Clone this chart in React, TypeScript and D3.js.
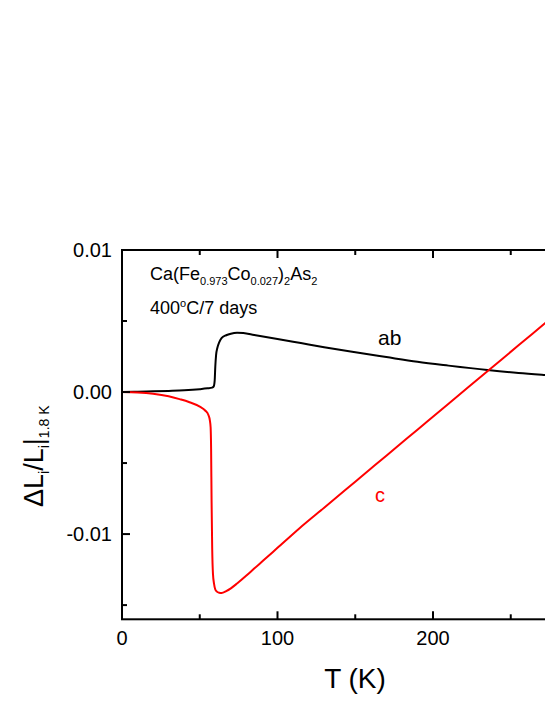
import React from "react";
import * as d3 from "d3";

// ---- data ----
const abT = [0, 10, 20, 30, 40, 50, 55, 58, 59, 59.6, 60.0, 60.5, 61.3, 62.5, 64, 67, 70, 74, 78, 85, 100, 115, 130, 147, 170, 190, 210, 235, 255, 272, 300];
const abV = [0, 0.00002, 0.00005, 0.00008, 0.00012, 0.0002, 0.00026, 0.00031, 0.0004, 0.0008, 0.0018, 0.0026, 0.0031, 0.0035, 0.0038, 0.004, 0.00411, 0.00417, 0.00415, 0.00402, 0.00374, 0.00345, 0.00316, 0.00285, 0.00246, 0.00213, 0.00186, 0.00155, 0.00134, 0.0012, 0.001];

const cT = [0, 10, 20, 30, 37, 43, 50, 53.5, 55.5, 56.5, 57, 57.3, 57.6, 58.0, 58.5, 59.2, 60, 61, 62.5, 64, 67, 70, 74, 80, 85, 91, 100, 114, 130, 150, 170, 190, 210, 235, 255, 272, 300];
const cV = [0, -0.00003, -0.00012, -0.0003, -0.0005, -0.0007, -0.00103, -0.0013, -0.0016, -0.002, -0.0025, -0.004, -0.0076, -0.011, -0.0128, -0.0135, -0.0139, -0.01405, -0.01413, -0.01415, -0.01402, -0.01382, -0.01348, -0.01292, -0.01243, -0.01185, -0.01097, -0.0096, -0.00814, -0.00631, -0.00448, -0.00265, -0.00082, 0.00146, 0.00329, 0.00484, 0.0074];

const xMajor = [0, 100, 200, 300];
const xMinor = [50, 150, 250];
const xLabels = ["0", "100", "200"];
const yMajor = [-0.01, 0, 0.01];
const yMinor = [-0.015, -0.005, 0.005];
const yLabels = ["-0.01", "0.00", "0.01"];

const FONT = "'Liberation Sans', Arial, sans-serif";

export default function App() {
  const W = 545, H = 705;
  const left = 122, top = 250, bottom = 619.3;
  const x = d3.scaleLinear().domain([0, 300]).range([left, left + 466.5]);
  const y = d3.scaleLinear().domain([-0.016, 0.01]).range([bottom, top]);
  const right = x(300);

  const line = d3
    .line<[number, number]>()
    .x((d) => x(d[0]))
    .y((d) => y(d[1]))
    .curve(d3.curveMonotoneX);

  const abPath = line(abT.map((t, i) => [t, abV[i]] as [number, number])) || "";
  const cPath = line(cT.map((t, i) => [t, cV[i]] as [number, number])) || "";

  const major = 8, minor = 5;

  return (
    <svg
      width={W}
      height={H}
      style={{ position: "absolute", left: 0, top: 0, display: "block", background: "#fff" }}
      fontFamily={FONT}
    >
      <defs>
        <clipPath id="plot">
          <rect x={left} y={top} width={right - left} height={bottom - top} />
        </clipPath>
      </defs>

      {/* curves */}
      <g clipPath="url(#plot)" fill="none" strokeWidth={2}>
        <path d={abPath} stroke="#000" />
        <path d={cPath} stroke="#ff0000" />
      </g>

      {/* frame */}
      <rect x={left} y={top} width={right - left} height={bottom - top} fill="none" stroke="#000" strokeWidth={2} />

      {/* ticks (inward on all sides) */}
      <g stroke="#000" strokeWidth={2}>
        {xMajor.map((t) => (
          <g key={"xM" + t}>
            <line x1={x(t)} x2={x(t)} y1={bottom} y2={bottom - major} />
            <line x1={x(t)} x2={x(t)} y1={top} y2={top + major} />
          </g>
        ))}
        {xMinor.map((t) => (
          <g key={"xm" + t}>
            <line x1={x(t)} x2={x(t)} y1={bottom} y2={bottom - minor} />
            <line x1={x(t)} x2={x(t)} y1={top} y2={top + minor} />
          </g>
        ))}
        {yMajor.map((v) => (
          <g key={"yM" + v}>
            <line x1={left} x2={left + major} y1={y(v)} y2={y(v)} />
            <line x1={right} x2={right - major} y1={y(v)} y2={y(v)} />
          </g>
        ))}
        {yMinor.map((v) => (
          <g key={"ym" + v}>
            <line x1={left} x2={left + minor} y1={y(v)} y2={y(v)} />
            <line x1={right} x2={right - minor} y1={y(v)} y2={y(v)} />
          </g>
        ))}
      </g>

      {/* tick labels */}
      <g fontSize={20} fill="#000">
        {xLabels.map((lab, i) => (
          <text key={"xl" + lab} x={x(xMajor[i])} y={645} textAnchor="middle">
            {lab}
          </text>
        ))}
        {yMajor.map((v, i) => (
          <text key={"yl" + v} x={112} y={y(v) + 7} textAnchor="end">
            {yLabels[i]}
          </text>
        ))}
      </g>

      {/* axis titles */}
      <text x={355} y={688} fontSize={28} textAnchor="middle">T (K)</text>
      <text transform="translate(43,507) rotate(-90)" fontSize={27}>
        <tspan>ΔL</tspan>
        <tspan fontSize={14} dy={6}>i</tspan>
        <tspan dy={-6}>/L</tspan>
        <tspan fontSize={14} dy={6}>i</tspan>
        <tspan dy={-6}>|</tspan>
        <tspan fontSize={14} dy={6}>1.8 K</tspan>
      </text>

      {/* annotations */}
      <text x={150} y={280} fontSize={18}>
        <tspan>Ca(Fe</tspan>
        <tspan fontSize={11} dy={5}>0.973</tspan>
        <tspan dy={-5}>Co</tspan>
        <tspan fontSize={11} dy={5}>0.027</tspan>
        <tspan dy={-5}>)</tspan>
        <tspan fontSize={11} dy={5}>2</tspan>
        <tspan dy={-5}>As</tspan>
        <tspan fontSize={11} dy={5}>2</tspan>
      </text>
      <text x={150} y={314} fontSize={18}>
        <tspan>400</tspan>
        <tspan fontSize={11} dy={-7}>o</tspan>
        <tspan dy={7}>C/7 days</tspan>
      </text>
      <text x={378} y={345} fontSize={21} fill="#000">ab</text>
      <text x={375} y={502} fontSize={20} fill="#ff0000">c</text>
    </svg>
  );
}
